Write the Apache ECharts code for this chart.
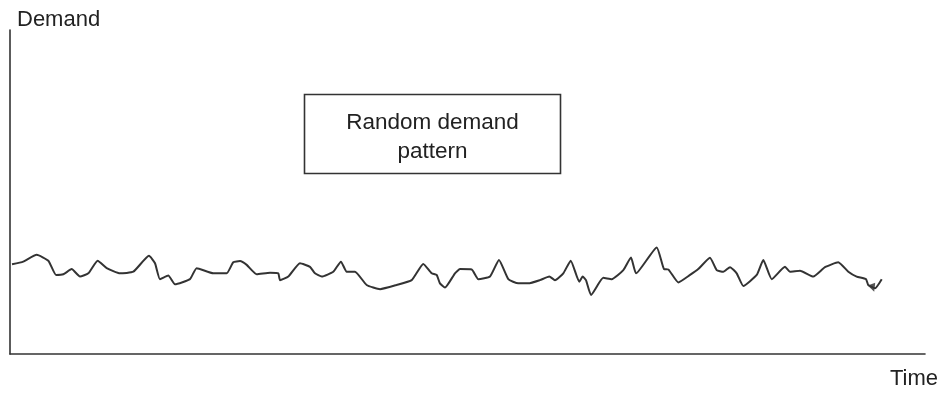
<!DOCTYPE html>
<html>
<head>
<meta charset="utf-8">
<script src="https://cdn.jsdelivr.net/npm/echarts@6/dist/echarts.min.js"></script>
<style>html,body{margin:0;padding:0;background:#fff;}#c{width:943px;height:394px;}</style>
</head>
<body>
<div id="c"></div>
<script>
var time = [0.22,1.45,2.92,4.19,5.03,5.83,6.74,7.65,8.56,9.58,10.57,12.02,13.48,15.19,15.85,16.39,17.30,18.03,19.67,20.40,22.22,23.68,24.40,25.14,25.87,26.96,28.42,29.32,29.51,30.42,31.69,32.79,33.33,34.07,35.33,36.17,36.80,37.70,38.98,40.44,42.26,43.90,45.17,46.09,46.63,46.99,47.54,48.63,49.18,50.46,51.18,52.46,53.44,54.46,55.55,56.65,57.92,58.94,59.56,60.47,61.28,62.22,62.59,62.95,63.50,64.84,65.76,67.03,67.87,68.42,70.68,71.48,71.95,73.04,74.32,75.22,76.50,77.23,77.96,78.69,79.42,80.14,81.61,82.33,83.25,84.70,85.25,86.34,87.79,89.07,90.52,91.62,92.53,93.55,93.80,94.54,95.27];
var demand = [27.7,28.5,30.6,28.8,24.4,24.6,26.2,23.9,24.9,28.8,26.5,24.9,25.4,30.3,28.0,23.1,24.2,21.5,23.1,26.5,24.9,24.9,28.3,28.7,27.5,24.6,25.1,24.9,22.8,23.9,28.0,26.9,24.9,23.9,25.4,28.5,25.4,25.4,21.3,20.0,21.3,22.8,27.8,24.9,24.4,21.8,20.5,24.9,26.2,26.1,23.1,23.9,29.0,23.1,21.8,21.8,22.8,23.9,22.8,24.9,28.8,22.3,23.9,22.8,18.2,23.5,23.1,25.9,29.8,24.9,32.9,26.2,26.1,22.1,24.4,26.2,29.7,25.9,25.4,26.8,24.9,21.0,24.4,29.0,23.1,26.9,25.4,25.7,23.9,26.8,28.3,25.4,23.9,23.1,21.3,20.3,23.1];
var arrowPoint = [[94.3, 20.4]];
var axisNames = {y: 'Demand', x: 'Time'};
var boxLines = ['Random demand', 'pattern'];

var lineData = time.map(function (t, i) { return [t, demand[i]]; });
var FONT = 'Liberation Sans';
var chart = echarts.init(document.getElementById('c'), null, {renderer: 'canvas'});
chart.setOption({
  animation: false,
  backgroundColor: '#ffffff',
  grid: {left: 10, right: 18, top: 30, bottom: 40},
  xAxis: {
    type: 'value', min: 0, max: 100,
    axisLine: {show: true, lineStyle: {color: '#333', width: 1.6}},
    axisTick: {show: false}, axisLabel: {show: false}, splitLine: {show: false}
  },
  yAxis: {
    type: 'value', min: 0, max: 100,
    axisLine: {show: true, lineStyle: {color: '#333', width: 1.6}},
    axisTick: {show: false}, axisLabel: {show: false}, splitLine: {show: false}
  },
  series: [
    {
      type: 'line', data: lineData, smooth: 0.15, showSymbol: false,
      lineStyle: {color: '#333', width: 2}
    },
    {
      type: 'scatter', data: arrowPoint, symbol: 'triangle', symbolSize: 8, symbolRotate: 200,
      itemStyle: {color: '#2a2a2a'}
    }
  ],
  graphic: [
    {type: 'text', left: 17, top: 9, style: {text: axisNames.y, font: '22px "' + FONT + '"', fill: '#222'}},
    {type: 'text', left: 890, top: 368, style: {text: axisNames.x, font: '22px "' + FONT + '"', fill: '#222'}},
    {type: 'rect', shape: {x: 304.5, y: 94.5, width: 256, height: 79}, style: {fill: 'none', stroke: '#333', lineWidth: 1.6}},
    {type: 'text', x: 432.5, y: 123, style: {text: boxLines[0], font: '22.5px "' + FONT + '"', fill: '#222', align: 'center', verticalAlign: 'middle'}},
    {type: 'text', x: 432.5, y: 152, style: {text: boxLines[1], font: '22.5px "' + FONT + '"', fill: '#222', align: 'center', verticalAlign: 'middle'}}
  ]
});
</script>
</body>
</html>
